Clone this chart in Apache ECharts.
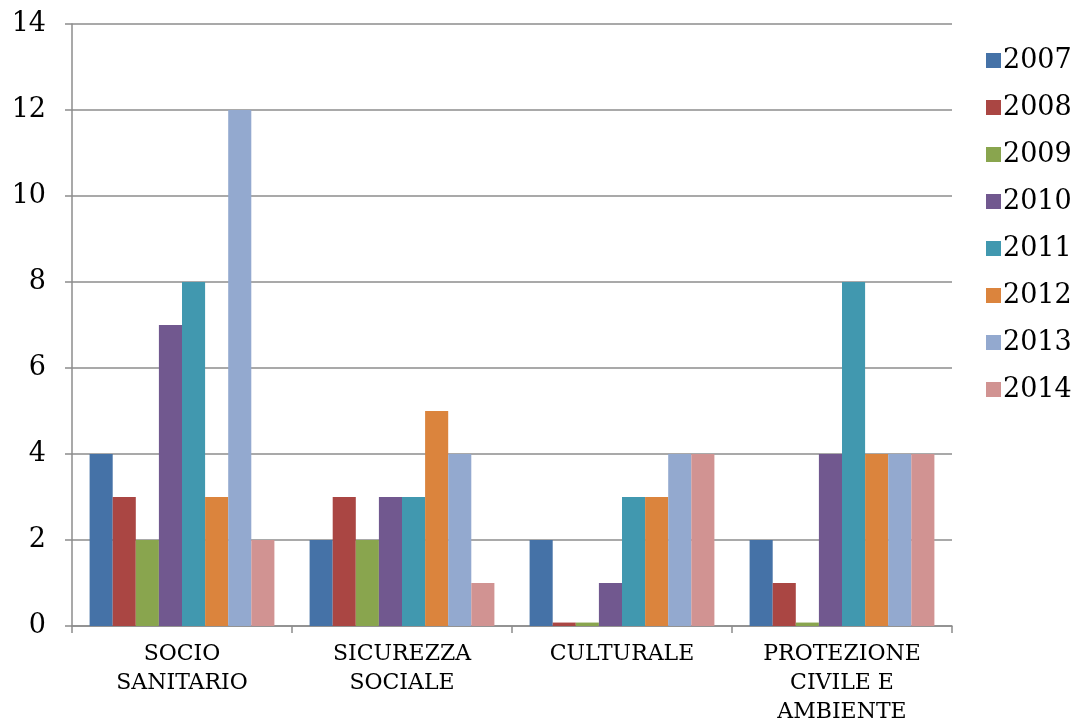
<!DOCTYPE html>
<html>
<head>
<meta charset="utf-8">
<script src="https://cdn.jsdelivr.net/npm/echarts@6/dist/echarts.min.js"></script>
<style>html,body{margin:0;padding:0;background:#fff;}#c{width:1074px;height:720px;}</style>
</head>
<body>
<div id="c"></div>
<script>
const categories = ["SOCIO\nSANITARIO", "SICUREZZA\nSOCIALE", "CULTURALE", "PROTEZIONE\nCIVILE E\nAMBIENTE"];
const years = ["2007", "2008", "2009", "2010", "2011", "2012", "2013", "2014"];
const v2007 = [4, 2, 2, 2];
const v2008 = [3, 3, 0.08, 1];
const v2009 = [2, 2, 0.08, 0.08];
const v2010 = [7, 3, 1, 4];
const v2011 = [8, 3, 3, 8];
const v2012 = [3, 5, 3, 4];
const v2013 = [12, 4, 4, 4];
const v2014 = [2, 1, 4, 4];
const seriesValues = [v2007, v2008, v2009, v2010, v2011, v2012, v2013, v2014];
const colors = ["#4572A7", "#AA4643", "#89A54E", "#71588F", "#4198AF", "#DB843D", "#93A9CF", "#D19392"];

const font = "DejaVu Serif";
const chart = echarts.init(document.getElementById('c'));
chart.setOption({
  animation: false,
  color: colors,
  grid: {left: 72, right: 122, top: 24, bottom: 94, outerBoundsMode: 'none', containLabel: false},
  legend: {
    orient: 'vertical', left: 981, top: 42,
    itemWidth: 15, itemHeight: 15, itemGap: 20,
    icon: 'rect',
    textStyle: {fontFamily: font, fontSize: 27, color: '#000', lineHeight: 27, padding: [0,0,0,-3]},
    data: years
  },
  xAxis: {
    type: 'category', data: categories,
    axisLine: {lineStyle: {color: '#8c8c8c', width: 1.5}},
    axisTick: {show: true, length: 7, lineStyle: {color: '#8c8c8c', width: 1.5}},
    axisLabel: {fontFamily: font, fontSize: 22, color: '#000', lineHeight: 29, margin: 14, interval: 0}
  },
  yAxis: {
    type: 'value', min: 0, max: 14, interval: 2,
    axisLine: {show: true, lineStyle: {color: '#8c8c8c', width: 1.5}},
    axisTick: {show: true, length: 7, lineStyle: {color: '#8c8c8c', width: 1.5}},
    splitLine: {lineStyle: {color: '#8c8c8c', width: 1.5}},
    axisLabel: {fontFamily: font, fontSize: 27, color: '#000', margin: 26}
  },
  series: years.map((y, i) => ({
    name: y, type: 'bar', data: seriesValues[i],
    barGap: '0%', barCategoryGap: '16%',
    itemStyle: {color: colors[i]}
  }))
});
</script>
</body>
</html>
